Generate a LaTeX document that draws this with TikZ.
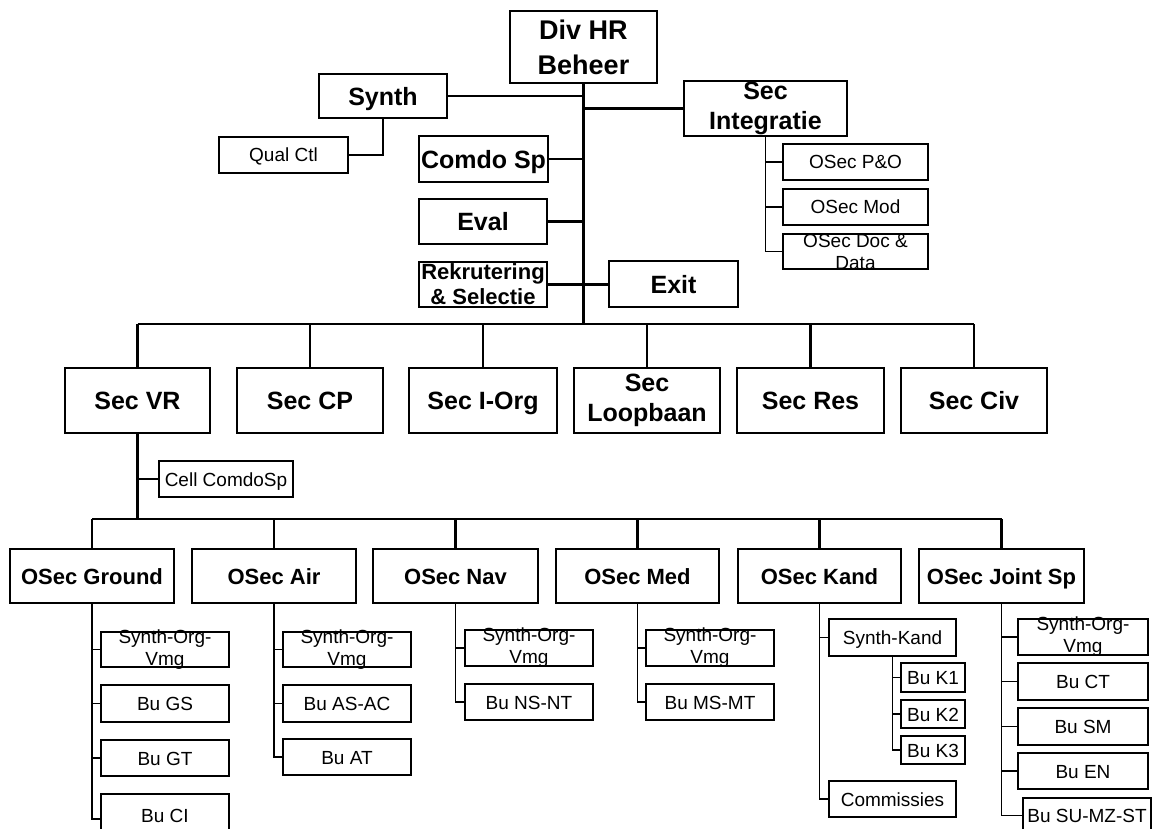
\documentclass[tikz,border=0pt]{standalone}
\usepackage{fontspec}
\setmainfont{Liberation Sans}
\usetikzlibrary{fit}
\tikzset{
  bigbox/.style={draw, line width=2.2pt, inner sep=0pt, outer sep=0pt},
  bigboxtxt/.style={font=\bfseries\fontsize{25}{30}\selectfont, inner sep=0pt, text height=18.6pt, text depth=0pt},
  bigboxm/.style={bigbox},
  bigboxmtxt/.style={font=\bfseries\fontsize{25}{30}\selectfont, align=center, inner sep=0pt},
  divbox/.style={bigbox},
  divboxtxt/.style={font=\bfseries\fontsize{27}{35}\selectfont, align=center, inner sep=0pt},
  rekbox/.style={bigbox},
  rekboxtxt/.style={font=\bfseries\fontsize{22}{25}\selectfont, align=center, inner sep=0pt},
  osecbox/.style={draw, line width=1.8pt, inner sep=0pt, outer sep=0pt},
  osecboxtxt/.style={font=\bfseries\fontsize{22}{26}\selectfont, inner sep=0pt, text height=16.3pt, text depth=0pt},
  smallbox/.style={draw, line width=1.5pt, inner sep=0pt, outer sep=0pt},
  smallboxtxt/.style={font=\fontsize{19}{22}\selectfont, inner sep=0pt, text height=14pt, text depth=0pt},
  smallboxm/.style={smallbox},
  smallboxmtxt/.style={font=\fontsize{19}{22}\selectfont, align=center, inner sep=0pt},
  link/.style={line width=2.2pt},
  thinlink/.style={line width=1.5pt},
}
\newcommand{\ob}[5]{\node[#1, fit={(#3) (#4)}, label={[#1txt]center:{#5}}] (#2) {};}
\begin{document}
\begin{tikzpicture}[x=1pt,y=-1pt]
\clip (0,0) rectangle (1157,829);
\fill[white] (0,0) rectangle (1157,829);
% top level
\ob{divbox}{div}{510,11}{657,83}{Div HR\\Beheer}
\ob{bigbox}{synth}{319,74}{447,118}{Synth}
\ob{smallbox}{qual}{219,137}{348,173}{Qual Ctl}
\ob{bigbox}{comdo}{419,136}{548,182}{Comdo Sp}
\ob{bigbox}{eval}{419,199}{547,244}{Eval}
\ob{rekbox}{rek}{419,262}{547,307}{Rekrutering\\\& Selectie}
\ob{bigbox}{exit}{609,261}{738,307}{Exit}
\ob{bigboxm}{integ}{684,81}{847,136}{Sec\\Integratie}
\ob{smallbox}{po}{783,144}{928,180}{OSec P\&O}
\ob{smallbox}{mod}{783,189}{928,225}{OSec Mod}
\ob{smallboxm}{doc}{783,234}{928,269}{OSec Doc \&\\Data}
% sections
\ob{bigbox}{secvr}{65,368}{210,433}{Sec VR}
\ob{bigbox}{seccp}{237,368}{383,433}{Sec CP}
\ob{bigbox}{seciorg}{409,368}{557,433}{Sec I-Org}
\ob{bigboxm}{secloop}{574,368}{720,433}{Sec\\Loopbaan}
\ob{bigbox}{secres}{737,368}{884,433}{Sec Res}
\ob{bigbox}{secciv}{901,368}{1047,433}{Sec Civ}
\ob{smallbox}{cell}{159,461}{293,497}{Cell ComdoSp}
% osec row
\ob{osecbox}{ground}{10,549}{174,603}{OSec Ground}
\ob{osecbox}{air}{192,549}{356,603}{OSec Air}
\ob{osecbox}{nav}{373,549}{538,603}{OSec Nav}
\ob{osecbox}{med}{556,549}{719,603}{OSec Med}
\ob{osecbox}{kand}{738,549}{901,603}{OSec Kand}
\ob{osecbox}{joint}{919,549}{1084,603}{OSec Joint Sp}
% ground children
\ob{smallboxm}{g1}{101,632}{229,667}{Synth-Org-\\Vmg}
\ob{smallbox}{g2}{101,685}{229,722}{Bu GS}
\ob{smallbox}{g3}{101,740}{229,776}{Bu GT}
\ob{smallbox}{g4}{101,794}{229,836}{Bu CI}
% air children
\ob{smallboxm}{a1}{283,632}{411,667}{Synth-Org-\\Vmg}
\ob{smallbox}{a2}{283,685}{411,722}{Bu AS-AC}
\ob{smallbox}{a3}{283,739}{411,775}{Bu AT}
% nav children
\ob{smallboxm}{n1}{465,630}{593,666}{Synth-Org-\\Vmg}
\ob{smallbox}{n2}{465,684}{593,720}{Bu NS-NT}
% med children
\ob{smallboxm}{m1}{646,630}{774,666}{Synth-Org-\\Vmg}
\ob{smallbox}{m2}{646,684}{774,720}{Bu MS-MT}
% kand children
\ob{smallbox}{sk}{829,619}{956,656}{Synth-Kand}
\ob{smallbox}{k1}{901,663}{965,692}{Bu K1}
\ob{smallbox}{k2}{901,700}{965,728}{Bu K2}
\ob{smallbox}{k3}{901,736}{965,764}{Bu K3}
\ob{smallbox}{comm}{829,781}{956,817}{Commissies}
% joint children
\ob{smallboxm}{j1}{1018,619}{1148,655}{Synth-Org-\\Vmg}
\ob{smallbox}{j2}{1018,663}{1148,700}{Bu CT}
\ob{smallbox}{j3}{1018,708}{1148,745}{Bu SM}
\ob{smallbox}{j4}{1018,753}{1148,789}{Bu EN}
\ob{smallbox}{j5}{1023,798}{1151,833}{Bu SU-MZ-ST}
% connectors: top
\coordinate (tbot) at (583.5,324);
\coordinate (ob) at (137.5,519);
\draw[link] (div.south) -- (tbot);
\draw[link] (synth.east) -- (synth.east -| tbot);
\draw[thinlink] (synth.south) |- (qual.east);
\draw[link] (comdo.east) -- (comdo.east -| tbot);
\draw[link] (integ.west) -- (integ.west -| tbot);
\draw[thinlink] (integ.south) |- (po.west);
\draw[thinlink] (integ.south) |- (mod.west);
\draw[thinlink] (integ.south) |- (doc.west);
\draw[link] (eval.east) -- (eval.east -| tbot);
\draw[link] (rek.east) -- (rek.east -| exit.west);
% main bus
\draw[link] (secvr.north |- tbot) -- (secciv.north |- tbot);
\foreach \s in {secvr,seccp,seciorg,secloop,secres,secciv}
  \draw[link] (\s.north) -- (\s.north |- tbot);
% sec vr subtree
\draw[link] (secvr.south) -- (secvr.south |- ob);
\draw[thinlink] (cell.west) -- (cell.west -| secvr.south);
\draw[link] (ground.north |- ob) -- (joint.north |- ob);
\foreach \s in {ground,air,nav,med,kand,joint}
  \draw[link] (\s.north) -- (\s.north |- ob);
% children
\foreach \c in {g1,g2,g3}
  \draw[thinlink] (ground.south) |- (\c.west);
\draw[thinlink] (ground.south) |- ([yshift=-4pt]g4.west);
\foreach \c in {a1,a2,a3}
  \draw[thinlink] (air.south) |- (\c.west);
\foreach \c in {n1,n2}
  \draw[thinlink] (nav.south) |- (\c.west);
\foreach \c in {m1,m2}
  \draw[thinlink] (med.south) |- (\c.west);
\foreach \c in {sk,comm}
  \draw[thinlink] (kand.south) |- (\c.west);
\foreach \c in {k1,k2,k3}
  \draw[thinlink] (sk.south) |- (\c.west);
\foreach \c in {j1,j2,j3,j4,j5}
  \draw[thinlink] (joint.south) |- (\c.west);
\end{tikzpicture}
\end{document}
